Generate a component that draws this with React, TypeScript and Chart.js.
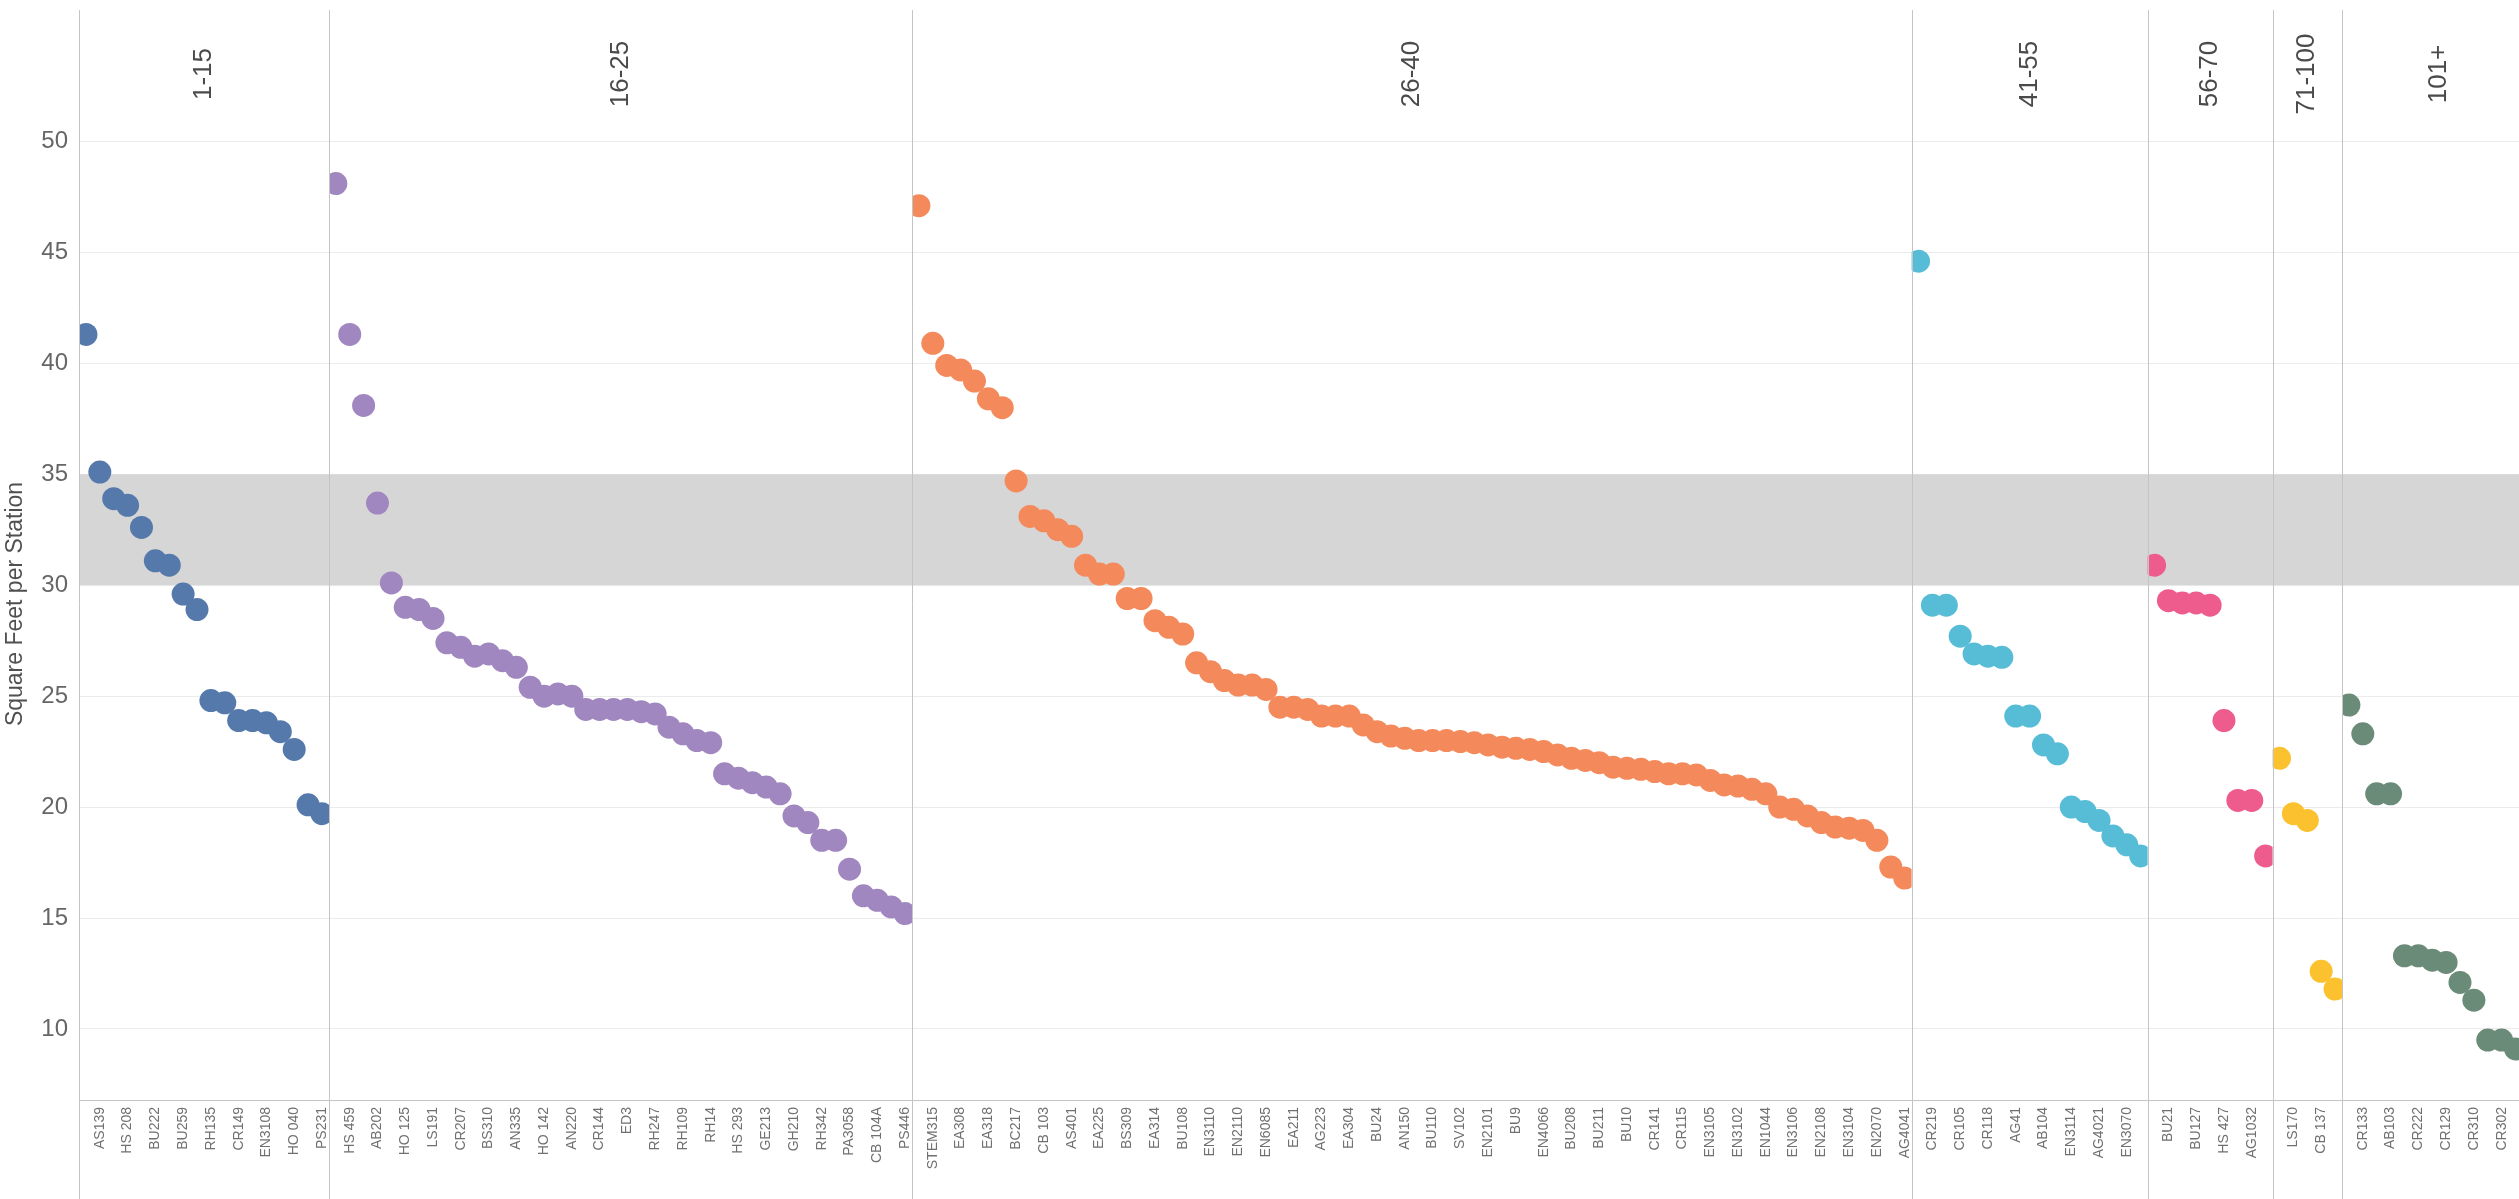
import React, { useEffect, useRef } from "react";
import { Chart, registerables } from "chart.js";

Chart.register(...registerables);

// ---- Data -------------------------------------------------------------
const panelNames = ["1-15", "16-25", "26-40", "41-55", "56-70", "71-100", "101+"];

const values1 = [41.3, 35.1, 33.9, 33.6, 32.6, 31.1, 30.9, 29.6, 28.9, 24.8, 24.7, 23.9, 23.9, 23.8, 23.4, 22.6, 20.1, 19.7];
const values2 = [
  48.1, 41.3, 38.1, 33.7, 30.1, 29.0, 28.9, 28.5, 27.4, 27.2,
  26.8, 26.9, 26.6, 26.3, 25.4, 25.0, 25.1, 25.0, 24.4, 24.4,
  24.4, 24.4, 24.3, 24.2, 23.6, 23.3, 23.0, 22.9, 21.5, 21.3,
  21.1, 20.9, 20.6, 19.6, 19.3, 18.5, 18.5, 17.2, 16.0, 15.8,
  15.5, 15.2,
];
const values3 = [
  47.1, 40.9, 39.9, 39.7, 39.2, 38.4, 38.0, 34.7, 33.1, 32.9,
  32.5, 32.2, 30.9, 30.5, 30.5, 29.4, 29.4, 28.4, 28.1, 27.8,
  26.5, 26.1, 25.7, 25.5, 25.5, 25.3, 24.5, 24.5, 24.4, 24.1,
  24.1, 24.1, 23.7, 23.4, 23.2, 23.1, 23.0, 23.0, 23.0, 22.95,
  22.9, 22.8, 22.7, 22.65, 22.6, 22.5, 22.35, 22.2, 22.1, 22.0,
  21.8, 21.75, 21.7, 21.6, 21.5, 21.5, 21.45, 21.2, 21.0, 20.95,
  20.8, 20.6, 20.0, 19.9, 19.6, 19.3, 19.1, 19.05, 18.95, 18.5,
  17.3, 16.8,
];
const values4 = [44.6, 29.1, 29.1, 27.7, 26.9, 26.8, 26.75, 24.1, 24.1, 22.8, 22.4, 20.0, 19.8, 19.4, 18.7, 18.3, 17.8];
const values5 = [30.9, 29.3, 29.2, 29.2, 29.1, 23.9, 20.3, 20.3, 17.8];
const values6 = [22.2, 19.7, 19.4, 12.6, 11.8];
// the 14th slot of this panel lies beyond the right edge of the picture
const values7: (number | null)[] = [24.6, 23.3, 20.6, 20.6, 13.3, 13.3, 13.1, 13.0, 12.1, 11.3, 9.5, 9.5, 9.1, null];

// tick labels (shown on every other room, local odd positions)
const labels1 = ["AS139", "HS 208", "BU222", "BU259", "RH135", "CR149", "EN3108", "HO 040", "PS231"];
const labels2 = [
  "HS 459", "AB202", "HO 125", "LS191", "CR207", "BS310", "AN335", "HO 142", "AN220", "CR144", "ED3",
  "RH247", "RH109", "RH14", "HS 293", "GE213", "GH210", "RH342", "PA3058", "CB 104A", "PS446",
];
const labels3 = [
  "STEM315", "EA308", "EA318", "BC217", "CB 103", "AS401", "EA225", "BS309", "EA314", "BU108",
  "EN3110", "EN2110", "EN6085", "EA211", "AG223", "EA304", "BU24", "AN150", "BU110", "SV102",
  "EN2101", "BU9", "EN4066", "BU208", "BU211", "BU10", "CR141", "CR115", "EN3105", "EN3102",
  "EN1044", "EN3106", "EN2108", "EN3104", "EN2070", "AG4041",
];
const labels4 = ["CR219", "CR105", "CR118", "AG41", "AB104", "EN3114", "AG4021", "EN3070"];
const labels5 = ["BU21", "BU127", "HS 427", "AG1032"];
const labels6 = ["LS170", "CB 137"];
const labels7 = ["CR133", "AB103", "CR222", "CR129", "CR310", "CR302"];

const yTickValues = [10, 15, 20, 25, 30, 35, 40, 45, 50];
const bandLow = 30;
const bandHigh = 35;

const panelColors = ["#5479aa", "#a087bf", "#f48a5b", "#57bdd7", "#ee5b8d", "#fbc12e", "#6b8b79"];

// ---- Derived ------------------------------------------------------------
const panelValues = [values1, values2, values3, values4, values5, values6, values7];
const panelLabels = [labels1, labels2, labels3, labels4, labels5, labels6, labels7];

const panelStarts: number[] = [];
{
  let acc = 0;
  for (const v of panelValues) {
    panelStarts.push(acc);
    acc += v.length;
  }
}
const panelEnds = panelValues.map((v, i) => panelStarts[i] + v.length);

const tickMap = new Map<number, string>();
panelLabels.forEach((labs, p) => {
  labs.forEach((t, k) => {
    tickMap.set(panelStarts[p] + 2 * k + 1 + 0.5, t);
  });
});

const Y_MIN = 6.8;
const Y_MAX = 55.92;
const X_MAX = 175.75;

const FONT = "'Liberation Sans', Arial, sans-serif";
const LINE = "#c4c4c4";

export default function App() {
  const ref = useRef<HTMLCanvasElement | null>(null);

  useEffect(() => {
    const canvas = ref.current;
    if (!canvas) return;

    const datasets = panelValues.map((vals, p) => ({
      label: panelNames[p],
      data: vals
        .map((v, i) => (v === null ? null : { x: panelStarts[p] + i + 0.5, y: v }))
        .filter((d) => d !== null) as { x: number; y: number }[],
      backgroundColor: panelColors[p],
      borderWidth: 0,
      pointRadius: 11.5,
      pointHoverRadius: 11.5,
      pointBorderWidth: 0,
    }));

    const bandPlugin = {
      id: "band",
      beforeDatasetsDraw(chart: any) {
        const { ctx, chartArea, scales } = chart;
        const y1 = scales.y.getPixelForValue(bandHigh);
        const y2 = scales.y.getPixelForValue(bandLow);
        ctx.save();
        ctx.fillStyle = "#d6d6d6";
        ctx.fillRect(chartArea.left, y1, chartArea.right - chartArea.left, y2 - y1);
        ctx.restore();
      },
    };

    const paneClip = {
      id: "paneClip",
      beforeDatasetDraw(chart: any, args: any) {
        const { ctx, chartArea, scales } = chart;
        const p = args.index;
        const l = Math.max(chartArea.left, scales.x.getPixelForValue(panelStarts[p]));
        const r = Math.min(chartArea.right, scales.x.getPixelForValue(panelEnds[p]));
        ctx.save();
        ctx.beginPath();
        ctx.rect(l, chartArea.top, r - l, chartArea.bottom - chartArea.top);
        ctx.clip();
      },
      afterDatasetDraw(chart: any) {
        chart.ctx.restore();
      },
    };

    const framePlugin = {
      id: "frame",
      afterDatasetsDraw(chart: any) {
        const { ctx, chartArea, scales, height } = chart;
        ctx.save();
        ctx.strokeStyle = LINE;
        ctx.lineWidth = 1;
        // pane separators
        panelStarts.forEach((s) => {
          const x = Math.round(scales.x.getPixelForValue(s)) + 0.5;
          ctx.beginPath();
          ctx.moveTo(x, chartArea.top);
          ctx.lineTo(x, height);
          ctx.stroke();
        });
        // x axis line
        const yb = Math.round(chartArea.bottom) + 0.5;
        ctx.beginPath();
        ctx.moveTo(chartArea.left, yb);
        ctx.lineTo(chartArea.right, yb);
        ctx.stroke();

        // pane headers
        ctx.fillStyle = "#4a4a4a";
        ctx.font = `26px ${FONT}`;
        ctx.textAlign = "center";
        ctx.textBaseline = "middle";
        panelNames.forEach((name, p) => {
          const cx = scales.x.getPixelForValue((panelStarts[p] + panelEnds[p]) / 2);
          ctx.save();
          ctx.translate(cx, 74);
          ctx.rotate(-Math.PI / 2);
          ctx.fillText(name, 0, 0);
          ctx.restore();
        });

        // y axis title
        ctx.fillStyle = "#505050";
        ctx.font = `23px ${FONT}`;
        ctx.save();
        ctx.translate(16, 604);
        ctx.rotate(-Math.PI / 2);
        ctx.fillText("Square Feet per Station", 0, 0);
        ctx.restore();
        ctx.restore();
      },
    };

    const chart = new Chart(canvas, {
      type: "scatter",
      data: { datasets: datasets as any },
      options: {
        animation: false,
        responsive: false,
        devicePixelRatio: 1,
        events: [],
        layout: { autoPadding: false, padding: { top: 10, left: 0, right: 0, bottom: 0 } },
        plugins: {
          legend: { display: false },
          tooltip: { enabled: false },
        },
        scales: {
          x: {
            type: "linear",
            min: 0,
            max: X_MAX,
            grid: { display: false, drawTicks: false },
            border: { display: false },
            afterBuildTicks(scale: any) {
              scale.ticks = Array.from(tickMap.keys())
                .filter((v) => v <= X_MAX)
                .map((v) => ({ value: v }));
            },
            afterFit(scale: any) {
              scale.height = 99;
              scale.paddingLeft = 0;
              scale.paddingRight = 0;
            },
            ticks: {
              autoSkip: false,
              minRotation: 90,
              maxRotation: 90,
              padding: 7,
              color: "#707070",
              font: { family: FONT, size: 14 },
              callback: (value: any) => tickMap.get(Number(value)) ?? "",
            },
          },
          y: {
            type: "linear",
            min: Y_MIN,
            max: Y_MAX,
            grid: { color: "#ebebeb", lineWidth: 1, drawTicks: false },
            border: { display: false },
            afterBuildTicks(scale: any) {
              scale.ticks = yTickValues.map((v) => ({ value: v }));
            },
            afterFit(scale: any) {
              scale.width = 79;
              scale.paddingTop = 0;
              scale.paddingBottom = 0;
            },
            ticks: {
              padding: 11,
              color: "#666666",
              font: { family: FONT, size: 24 },
              callback: (value: any) => String(value),
            },
          },
        },
      },
      plugins: [bandPlugin, paneClip, framePlugin],
    });

    return () => chart.destroy();
  }, []);

  return (
    <div
      style={{
        position: "fixed",
        left: 0,
        top: 0,
        width: 2519,
        height: 1199,
        background: "#ffffff",
        overflow: "hidden",
      }}
    >
      <canvas ref={ref} width={2519} height={1199} style={{ width: 2519, height: 1199, display: "block" }} />
    </div>
  );
}
